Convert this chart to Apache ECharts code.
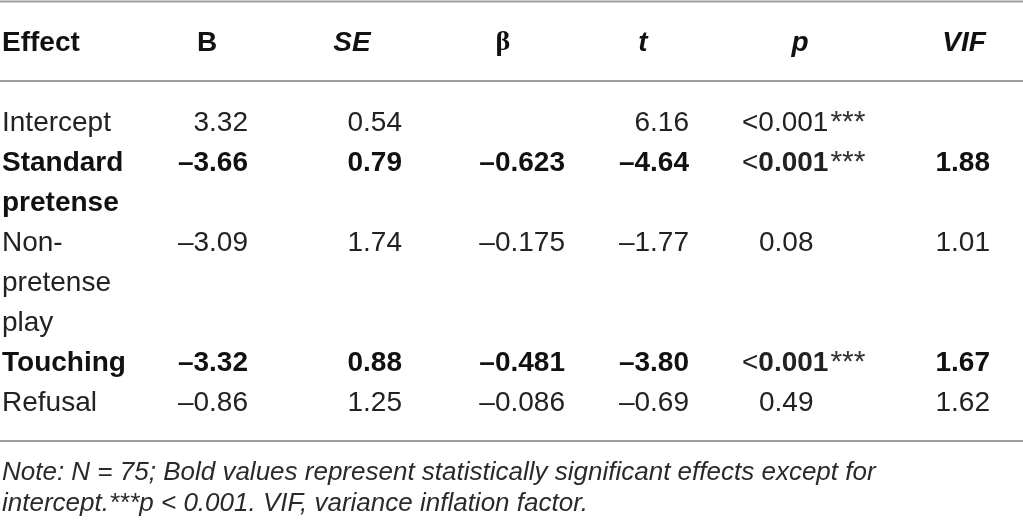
<!DOCTYPE html>
<html>
<head>
<meta charset="utf-8">
<script src="https://cdn.jsdelivr.net/npm/echarts@6/dist/echarts.min.js"></script>
<style>
html, body { margin: 0; padding: 0; background: #fff; }
#main { width: 1023px; height: 525px; }
</style>
</head>
<body>
<div id="main"></div>
<script>
// table data
var headers = ['Effect', 'B', 'SE', '\u03b2', 't', 'p', 'VIF'];
var effectLines = [['Intercept'], ['Standard', 'pretense'], ['Non-', 'pretense', 'play'], ['Touching'], ['Refusal']];
var bVals = [3.32, -3.66, -3.09, -3.32, -0.86];
var seVals = [0.54, 0.79, 1.74, 0.88, 1.25];
var betaVals = [null, -0.623, -0.175, -0.481, -0.086];
var tVals = [6.16, -4.64, -1.77, -3.80, -0.69];
var pVals = ['<0.001', '<0.001', '0.08', '<0.001', '0.49'];
var pStars = ['***', '***', '', '***', ''];
var vifVals = [null, 1.88, 1.01, 1.67, 1.62];
var significant = [false, true, false, true, false];
var notes = [
    'Note: N = 75; Bold values represent statistically significant effects except for',
    'intercept.***p < 0.001. VIF, variance inflation factor.'
];

// layout: x in page units, y in text-line units
var FONT = 'Liberation Sans';
var colLayout = [
    {head: 2, headAlign: 'left', val: 2, align: 'left'},
    {head: 207, headAlign: 'center', val: 248, align: 'right', dec: 2},
    {head: 352, headAlign: 'center', val: 402, align: 'right', dec: 2, italic: true},
    {head: 503, headAlign: 'center', val: 565, align: 'right', dec: 3, serif: true},
    {head: 643, headAlign: 'center', val: 689, align: 'right', dec: 2, italic: true},
    {head: 800, headAlign: 'center', val: 742, align: 'left', italic: true},
    {head: 964, headAlign: 'center', val: 990, align: 'right', dec: 2, italic: true}
];
var ltWidth = 17;
var rules = [-1.0375, 0.95, 9.95];
var noteRows = [10.75, 11.52];

function fmt(v, d) {
    if (v == null) return '';
    return (v < 0 ? '\u2013' : '') + Math.abs(v).toFixed(d);
}

var cells = [];
headers.forEach(function (h, c) {
    var L = colLayout[c];
    cells.push({x: L.head, y: 0, text: h, align: L.headAlign, weight: 'bold',
        style: L.italic ? 'italic' : 'normal', family: L.serif ? 'Liberation Serif' : FONT});
});

var line = 2;
var numCols = [bVals, seVals, betaVals, tVals];
effectLines.forEach(function (parts, r) {
    var w = significant[r] ? 'bold' : 'normal';
    parts.forEach(function (p, j) {
        cells.push({x: colLayout[0].val, y: line + j, text: p, align: 'left', weight: w});
    });
    numCols.forEach(function (arr, k) {
        var L = colLayout[k + 1];
        cells.push({x: L.val, y: line, text: fmt(arr[r], L.dec), align: L.align, weight: w});
    });
    var hasLt = pVals[r].charAt(0) === '<';
    var txt = (hasLt ? '{n|<}{v|' + pVals[r].slice(1) + '}' : '{v|' + pVals[r] + '}') +
        (pStars[r] ? '{s|' + pStars[r] + '}' : '');
    cells.push({x: colLayout[5].val + (hasLt ? 0 : ltWidth), y: line, text: txt, align: 'left', weight: w,
        rich: {
            n: {fontFamily: FONT, fontSize: 28, fontWeight: 'normal', fill: '#222'},
            v: {fontFamily: FONT, fontSize: 28, fontWeight: w, fill: '#222'},
            s: {fontFamily: FONT, fontSize: 30, fontWeight: 'normal', fill: '#333', padding: [0, 0, 0, 2]}
        }});
    cells.push({x: colLayout[6].val, y: line, text: fmt(vifVals[r], colLayout[6].dec), align: 'right', weight: w});
    line += parts.length;
});

notes.forEach(function (t, i) {
    cells.push({x: 2, y: noteRows[i], text: t, align: 'left', weight: 'normal', style: 'italic', size: 26, color: '#2a2a2a'});
});

var myChart = echarts.init(document.getElementById('main'));
var option = {
    animation: false,
    backgroundColor: '#fff',
    grid: {left: 0, right: 0, top: 0, bottom: 0},
    xAxis: {type: 'value', min: 0, max: 1023, show: false},
    yAxis: {type: 'value', min: -1.075, max: 12.05, inverse: true, show: false},
    series: [
        {
            type: 'custom',
            silent: true,
            data: rules.map(function (y) { return [0, y]; }),
            renderItem: function (params, api) {
                var p0 = api.coord([0, api.value(1)]);
                var p1 = api.coord([1023, api.value(1)]);
                return {type: 'line', shape: {x1: p0[0], y1: p0[1], x2: p1[0], y2: p1[1]},
                    style: {stroke: '#9d9d9d', lineWidth: 2}};
            }
        },
        {
            type: 'custom',
            silent: true,
            data: cells.map(function (c, i) { return [c.x, c.y, i]; }),
            renderItem: function (params, api) {
                var c = cells[api.value(2)];
                var pt = api.coord([api.value(0), api.value(1)]);
                return {
                    type: 'text', x: pt[0], y: pt[1],
                    style: {
                        text: c.text,
                        fontFamily: c.family || FONT,
                        fontSize: c.size || 28,
                        fontWeight: c.weight,
                        fontStyle: c.style || 'normal',
                        fill: c.color || (c.weight === 'bold' ? '#111' : '#222'),
                        align: c.align,
                        verticalAlign: 'middle',
                        rich: c.rich
                    }
                };
            }
        }
    ]
};
myChart.setOption(option);
</script>
</body>
</html>
